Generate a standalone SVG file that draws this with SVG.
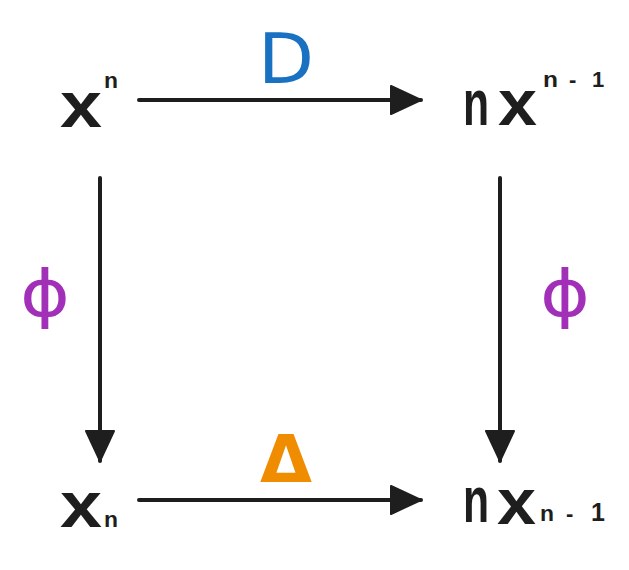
<svg xmlns="http://www.w3.org/2000/svg" width="629" height="570" viewBox="0 0 629 570">
<defs>
<style>
.t{font-family:"Liberation Sans","DejaVu Sans",sans-serif;font-weight:bold;fill:#1e1e1e}
.big{font-size:64px}
.small{font-size:22px}
.lbl{font-family:"DejaVu Sans","Liberation Sans",sans-serif}
.edge{stroke:#1e1e1e;stroke-width:4;stroke-linecap:round;fill:none}
</style>
<marker id="ah" markerUnits="userSpaceOnUse" markerWidth="34" markerHeight="32" refX="31" refY="16" orient="auto" viewBox="0 0 34 32">
<path d="M1,2 L31,16 L1,30 Z" fill="#1e1e1e" stroke="#1e1e1e" stroke-width="2" stroke-linejoin="round"/>
</marker>
</defs>
<rect width="629" height="570" fill="#ffffff"/>
<g id="connectors">
<line class="edge" x1="139" y1="100" x2="421" y2="100" marker-end="url(#ah)"/>
<line class="edge" x1="139" y1="500" x2="421" y2="500" marker-end="url(#ah)"/>
<line class="edge" x1="100" y1="178" x2="100" y2="461" marker-end="url(#ah)"/>
<line class="edge" x1="500" y1="178" x2="500" y2="461" marker-end="url(#ah)"/>
</g>
<g id="label-D"><text class="lbl" x="258" y="83" font-size="70" fill="#1971c2" textLength="56" lengthAdjust="spacingAndGlyphs">D</text></g>
<g id="label-Delta"><text class="lbl" x="260" y="482" font-size="66" font-weight="bold" fill="#f08c00" textLength="52" lengthAdjust="spacingAndGlyphs">Δ</text></g>
<g id="label-phi-left"><text class="lbl" x="20" y="316" font-size="64" fill="#a12fb8" textLength="50" lengthAdjust="spacingAndGlyphs">ϕ</text></g>
<g id="label-phi-right"><text class="lbl" x="540" y="316" font-size="64" fill="#a12fb8" textLength="50" lengthAdjust="spacingAndGlyphs">ϕ</text></g>
<g id="node-xn-top">
<text class="t big" x="60" y="127" textLength="42" lengthAdjust="spacingAndGlyphs">x</text>
<text class="t small" x="104" y="88" textLength="14" lengthAdjust="spacingAndGlyphs">n</text>
</g>
<g id="node-nxn1-top">
<text class="t big" transform="translate(463,125) scale(0.667,1)">n</text>
<text class="t big" x="498" y="125" textLength="39" lengthAdjust="spacingAndGlyphs">x</text>
<text class="t small" x="543" y="87" textLength="15" lengthAdjust="spacingAndGlyphs">n</text>
<text class="t small" x="569" y="87">-</text>
<text class="t small" x="592" y="87">1</text>
</g>
<g id="node-xn-bottom">
<text class="t big" x="60" y="527" textLength="42" lengthAdjust="spacingAndGlyphs">x</text>
<text class="t small" x="104" y="527" textLength="14" lengthAdjust="spacingAndGlyphs">n</text>
</g>
<g id="node-nxn1-bottom">
<text class="t big" transform="translate(463,522) scale(0.667,1)">n</text>
<text class="t big" x="497" y="524" textLength="39" lengthAdjust="spacingAndGlyphs">x</text>
<text class="t small" x="540" y="521" textLength="14" lengthAdjust="spacingAndGlyphs">n</text>
<text class="t small" x="566" y="521">-</text>
<text class="t" x="591" y="521" font-size="25">1</text>
</g>
</svg>
